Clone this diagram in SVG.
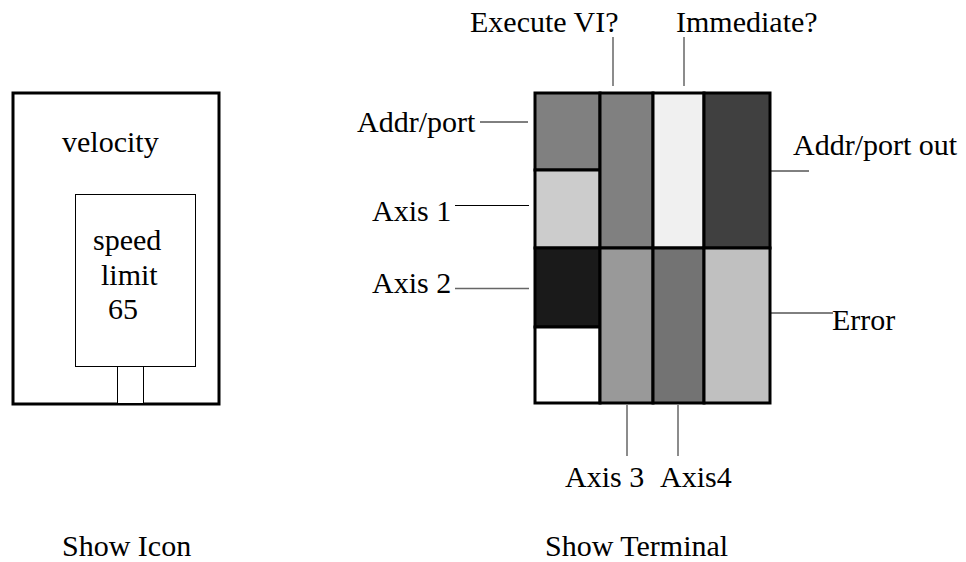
<svg xmlns="http://www.w3.org/2000/svg" width="966" height="562" viewBox="0 0 966 562">
  <style>
    text { font-family: "Liberation Serif", "Times New Roman", serif; font-size: 30px; fill: #000; }
    .frame { fill: none; stroke: #000; stroke-width: 3; }
    .thin { fill: #fff; stroke: #000; stroke-width: 1; }
    .cell { stroke: #000; stroke-width: 3; }
    .lead { stroke: #000; stroke-width: 1; fill: none; }
    .lead-gray { stroke: #666; stroke-width: 1.5; fill: none; }
  </style>
  <rect width="966" height="562" fill="#fff"/>

  <!-- Icon view -->
  <g id="icon">
    <rect class="frame" x="13" y="93" width="206" height="311"/>
    <text x="62" y="152">velocity</text>
    <g id="speed-limit">
      <rect class="thin" x="75.5" y="194.5" width="120" height="172"/>
      <text x="93" y="250">speed</text>
      <text x="101" y="285">limit</text>
      <text x="108" y="319">65</text>
    </g>
    <rect class="thin" x="117.5" y="366.5" width="26" height="37"/>
  </g>

  <!-- Terminal view -->
  <g id="terminal">
    <rect class="cell" x="535" y="93" width="65" height="77" fill="#808080"/>
    <rect class="cell" x="535" y="170" width="65" height="78" fill="#cccccc"/>
    <rect class="cell" x="535" y="248" width="65" height="79" fill="#1a1a1a"/>
    <rect class="cell" x="535" y="327" width="65" height="76" fill="#ffffff"/>
    <rect class="cell" x="600" y="93" width="53" height="155" fill="#808080"/>
    <rect class="cell" x="600" y="248" width="53" height="155" fill="#999999"/>
    <rect class="cell" x="653" y="93" width="51" height="155" fill="#f0f0f0"/>
    <rect class="cell" x="653" y="248" width="51" height="155" fill="#737373"/>
    <rect class="cell" x="704" y="93" width="66" height="155" fill="#404040"/>
    <rect class="cell" x="704" y="248" width="66" height="155" fill="#c0c0c0"/>
  </g>

  <!-- Terminal leads -->
  <g id="connectors">
    <line class="lead-gray" x1="613" y1="37" x2="613" y2="86"/>
    <line class="lead-gray" x1="684" y1="37" x2="684" y2="86"/>
    <line class="lead" x1="480" y1="122" x2="528" y2="122"/>
    <line class="lead" x1="455" y1="205.5" x2="529" y2="205.5"/>
    <line class="lead-gray" x1="455" y1="288.5" x2="529" y2="288.5"/>
    <line class="lead" x1="771" y1="171" x2="809" y2="171"/>
    <line class="lead" x1="771" y1="313" x2="833" y2="313"/>
    <line class="lead-gray" x1="627" y1="405" x2="627" y2="456"/>
    <line class="lead-gray" x1="678" y1="405" x2="678" y2="456"/>
  </g>

  <g id="labels">
    <text x="470" y="32">Execute VI?</text>
    <text x="676" y="32">Immediate?</text>
    <text x="357" y="132">Addr/port</text>
    <text x="372" y="221">Axis 1</text>
    <text x="372" y="293">Axis 2</text>
    <text x="793" y="155">Addr/port out</text>
    <text x="832" y="330">Error</text>
    <text x="565" y="487">Axis 3</text>
    <text x="660" y="487">Axis4</text>
    <text x="62" y="556">Show Icon</text>
    <text x="545" y="556">Show Terminal</text>
  </g>
</svg>
